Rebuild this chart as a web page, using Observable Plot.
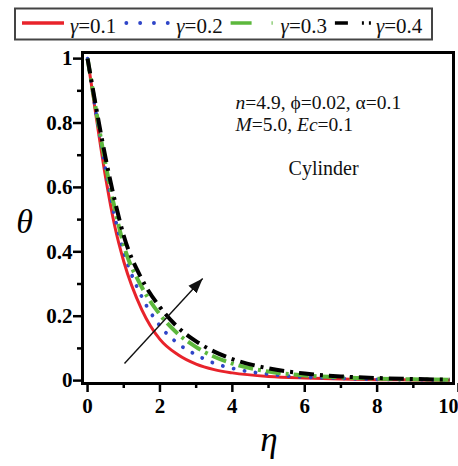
<!DOCTYPE html>
<html><head><meta charset="utf-8">
<script src="https://cdn.jsdelivr.net/npm/d3@7"></script>
<script src="https://cdn.jsdelivr.net/npm/@observablehq/plot@0.6"></script>
<style>
body{margin:0;background:#fff;}
#wrap{position:relative;width:458px;height:466px;}
</style></head><body><div id="wrap"></div>
<script>
// ---- data ----
const eta      = [0, 0.25, 0.5, 0.75, 1, 1.5, 2, 2.5, 3, 3.5, 4, 5, 6, 7, 8, 9, 10];
const theta01  = [1, 0.81, 0.63, 0.48, 0.37, 0.22, 0.128, 0.080, 0.051, 0.034, 0.024, 0.013, 0.008, 0.005, 0.003, 0.002, 0.001];
const theta02  = [1, 0.82, 0.655, 0.51, 0.40, 0.26, 0.17, 0.115, 0.080, 0.054, 0.038, 0.020, 0.011, 0.007, 0.004, 0.003, 0.002];
const theta03  = [1, 0.83, 0.67, 0.535, 0.42, 0.29, 0.205, 0.145, 0.104, 0.074, 0.053, 0.028, 0.016, 0.010, 0.006, 0.004, 0.003];
const theta04  = [1, 0.84, 0.69, 0.56, 0.45, 0.315, 0.228, 0.165, 0.122, 0.090, 0.067, 0.038, 0.022, 0.013, 0.008, 0.005, 0.003];
const gammas   = [0.1, 0.2, 0.3, 0.4];
const xTicks   = [0, 2, 4, 6, 8, 10];
const xMinor   = [1, 3, 5, 7, 9];
const yTicks   = [0, 0.2, 0.4, 0.6, 0.8, 1];
const yMinor   = [0.1, 0.3, 0.5, 0.7, 0.9];
const paramLines = ["*n*=4.9, ϕ=0.02, α=0.1", "*M*=5.0, *Ec*=0.1"];
const geometryLabel = "Cylinder";
const arrowEta   = [1.02, 3.18];
const arrowTheta = [0.053, 0.317];

// ---- styles ----
const seriesVals = [theta01, theta02, theta03, theta04];
const colors  = ["#e8232b", "#2f45c8", "#5cb83c", "#000000"];
const dashes  = [null, "0.1,11", "15,5,3,5", "15,6,3,6"];
const widths  = [3, 3.8, 4, 4];
const caps    = ["butt", "round", "butt", "butt"];
const legendDashes = [null, "0.1,13.7", "21,20,3,60", "13,14,2,5,2,60"];
const serif = "'Liberation Serif','Times New Roman',serif";

const lineMarks = seriesVals.map((vals, i) => {
  const rows = eta.map((e, j) => ({eta: e, theta: vals[j]}));
  return Plot.line(rows, {x: "eta", y: "theta", stroke: colors[i], strokeWidth: widths[i],
    strokeDasharray: dashes[i], strokeLinecap: caps[i], curve: "monotone-x"});
});

function filledArrow(color, context) {
  const m = d3.create("svg:marker")
    .attr("viewBox", "-15 -6 15 12").attr("markerWidth", 15).attr("markerHeight", 12)
    .attr("markerUnits", "userSpaceOnUse").attr("refX", 0).attr("refY", 0)
    .attr("orient", "auto").attr("fill", color).attr("stroke", "none");
  m.append("path").attr("d", "M-15,-5.5L0,0L-15,5.5Z");
  return m.node();
}

const arrowRow = [{x1: arrowEta[0], y1: arrowTheta[0], x2: arrowEta[1], y2: arrowTheta[1]}];
const annRows = [
  {x: 4.09, y: 0.842, t: paramLines[0]},
  {x: 4.09, y: 0.776, t: paramLines[1]}
];
const lastX = xTicks[xTicks.length - 1];

const chart = Plot.plot({
  width: 458, height: 466,
  marginLeft: 82, marginRight: 5, marginTop: 52, marginBottom: 83,
  x: {domain: [-0.14, 10.11], label: null},
  y: {domain: [-0.009, 1.019], label: null},
  style: {fontFamily: serif, background: "white", overflow: "visible"},
  marks: [
    ...lineMarks,
    Plot.link(arrowRow, {x1: "x1", y1: "y1", x2: "x2", y2: "y2", stroke: "#111", strokeWidth: 1.4, markerEnd: filledArrow}),
    Plot.text(annRows, {x: "x", y: "y", text: "t", textAnchor: "start", lineAnchor: "bottom", fontSize: 19.5, fill: "#111"}),
    Plot.text([geometryLabel], {x: 6.52, y: 0.637, text: d => d, textAnchor: "middle", lineAnchor: "bottom", fontSize: 20, fill: "#111"}),
    Plot.frame({stroke: "black", strokeWidth: 3}),
    Plot.axisX({ticks: xTicks.filter(d => d !== lastX), tickSize: 9, tickPadding: 6, strokeWidth: 2.5, fontSize: 21, fontWeight: "bold", tickFormat: d => String(d), label: null}),
    Plot.axisX({ticks: [lastX], tickSize: 9, tickPadding: 6, strokeWidth: 2.5, fontSize: 20, fontWeight: "bold", textAnchor: "end", dx: 9, tickFormat: d => String(d), label: null}),
    Plot.axisX({ticks: xMinor, tickSize: 5, strokeWidth: 2.5, tickFormat: () => "", label: null}),
    Plot.axisY({ticks: yTicks, tickSize: 9, tickPadding: 1, strokeWidth: 2.5, fontSize: 21, fontWeight: "bold", tickFormat: d => String(d), label: null}),
    Plot.axisY({ticks: yMinor, tickSize: 5, strokeWidth: 2.5, tickFormat: () => "", label: null}),
    Plot.text(["θ"], {frameAnchor: "left", text: d => d, dx: -58, dy: 4, textAnchor: "middle", fontSize: 34, fontStyle: "italic"}),
    Plot.text(["η"], {frameAnchor: "bottom", text: d => d, dx: 1, dy: 67, textAnchor: "middle", lineAnchor: "bottom", fontSize: 35, fontStyle: "italic"})
  ]
});

// italic segments marked with *...*
d3.select(chart).selectAll("text").each(function() {
  const s = this.textContent;
  if (!s.includes("*")) return;
  const parts = s.split("*");
  this.textContent = "";
  parts.forEach((p, i) => {
    if (!p) return;
    const t = document.createElementNS("http://www.w3.org/2000/svg", "tspan");
    t.textContent = p;
    if (i % 2) t.setAttribute("font-style", "italic");
    this.appendChild(t);
  });
});

const wrap = document.getElementById("wrap");
wrap.appendChild(chart);

// ---- legend ----
const leg = d3.create("svg").attr("width", 458).attr("height", 46)
  .style("position", "absolute").style("left", "0px").style("top", "0px");
leg.append("rect").attr("x", 15).attr("y", 8.5).attr("width", 417).attr("height", 31)
  .attr("fill", "white").attr("stroke", "#444").attr("stroke-width", 2);
gammas.forEach((g, i) => {
  const x0 = 22 + i * 104.3;
  leg.append("line").attr("x1", x0).attr("x2", x0 + 42).attr("y1", 23).attr("y2", 23)
    .attr("stroke", colors[i]).attr("stroke-width", i === 1 ? 3.8 : 3.5)
    .attr("stroke-linecap", caps[i])
    .attr("stroke-dasharray", legendDashes[i]);
  const t = leg.append("text").attr("x", x0 + 48 + (i === 3 ? -7 : 0) + (i === 1 || i === 2 ? 2 : 0)).attr("y", 32.5)
    .attr("font-family", serif).attr("font-size", 21).attr("fill", "#111");
  t.append("tspan").attr("font-style", "italic").text("γ");
  t.append("tspan").text(`=${g}`);
});
wrap.appendChild(leg.node());
</script></body></html>
